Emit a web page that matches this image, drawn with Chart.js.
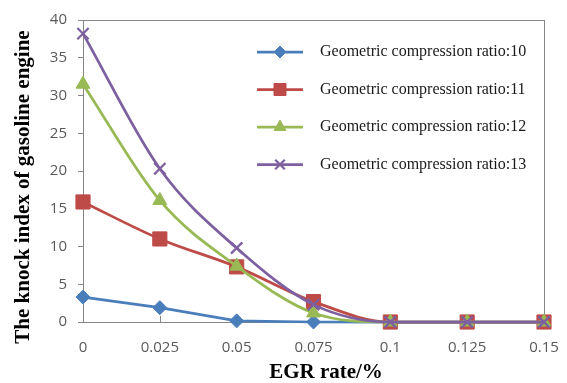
<!DOCTYPE html>
<html>
<head>
<meta charset="utf-8">
<script src="https://cdn.jsdelivr.net/npm/chart.js@4"></script>
<style>
  html, body { margin: 0; padding: 0; background: #ffffff; }
</style>
</head>
<body>
<canvas id="knock-chart" width="567" height="383"></canvas>
<script>
const egrRates = ['0', '0.025', '0.05', '0.075', '0.1', '0.125', '0.15'];
const seriesNames = [
    'Geometric compression ratio:10',
    'Geometric compression ratio:11',
    'Geometric compression ratio:12',
    'Geometric compression ratio:13'
];
const ratio10 = [3.3, 1.9, 0.15, 0, 0, 0, 0];
const ratio11 = [15.9, 11.0, 7.3, 2.7, 0, 0, 0];
const ratio12 = [31.5, 16.1, 7.4, 1.2, 0, 0, 0];
const ratio13 = [38.2, 20.3, 9.8, 2.3, 0, 0, 0];
const yTicks = [0, 5, 10, 15, 20, 25, 30, 35, 40];
const yTitle = 'The knock index of gasoline engine';
const xTitle = 'EGR rate/%';

const axisGray = '#868686';
const serif = '"Liberation Serif", "Times New Roman", serif';

// plot frame, inward x ticks, axis titles and legend drawn by hand like the Excel original
const framePlugin = {
    id: 'frame',
    beforeDatasetsDraw(chart) {
        const { ctx, chartArea } = chart;
        ctx.save();
        ctx.strokeStyle = axisGray;
        ctx.lineWidth = 1;
        ctx.strokeRect(chartArea.left + 0.5, chartArea.top + 0.5,
            chartArea.right - chartArea.left, chartArea.bottom - chartArea.top);
        const xs = chart.scales.x;
        ctx.beginPath();
        xs.ticks.forEach((t, i) => {
            const px = Math.round(xs.getPixelForTick(i)) + 0.5;
            ctx.moveTo(px, chartArea.bottom);
            ctx.lineTo(px, chartArea.bottom - 6);
        });
        ctx.stroke();

        ctx.fillStyle = '#000000';
        ctx.font = 'bold 21px ' + serif;
        ctx.textAlign = 'center';
        ctx.textBaseline = 'middle';
        ctx.fillText(xTitle, 326, 373);
        ctx.translate(24, 187);
        ctx.rotate(-Math.PI / 2);
        ctx.fillText(yTitle, 0, 0);
        ctx.restore();
    },
    afterDatasetsDraw(chart) {
        const { ctx, chartArea } = chart;
        ctx.save();
        chart.data.datasets.forEach((ds, i) => {
            const y = chartArea.top + 32 + i * 37.5;
            const x0 = chartArea.left + 174;
            const x1 = chartArea.left + 220;
            ctx.strokeStyle = ds.borderColor;
            ctx.lineWidth = ds.borderWidth;
            ctx.beginPath();
            ctx.moveTo(x0, y);
            ctx.lineTo(x1, y);
            ctx.stroke();
            ctx.fillStyle = ds.pointBackgroundColor;
            ctx.strokeStyle = ds.pointBorderColor;
            ctx.lineWidth = ds.pointBorderWidth;
            Chart.helpers.drawPoint(ctx, {
                pointStyle: ds.pointStyle,
                radius: ds.pointRadius * 0.85,
                rotation: 0,
                borderWidth: ds.pointBorderWidth
            }, (x0 + x1) / 2, y);
            ctx.fillStyle = '#1a1a1a';
            ctx.font = '16px ' + serif;
            ctx.textAlign = 'left';
            ctx.textBaseline = 'middle';
            ctx.fillText(ds.label, chartArea.left + 237, y);
        });
        ctx.restore();
    }
};

function makeSeries(label, data, color, style, radius, smooth) {
    return {
        label: label,
        data: data,
        borderColor: color,
        backgroundColor: color,
        borderWidth: 2.75,
        pointStyle: style,
        pointRadius: radius,
        pointBackgroundColor: color,
        pointBorderColor: color,
        pointBorderWidth: style === 'crossRot' ? 2.25 : 1,
        cubicInterpolationMode: smooth ? 'monotone' : 'default',
        tension: 0,
        fill: false,
        clip: false
    };
}

const datasets = [
    makeSeries(seriesNames[0], ratio10, '#4a7ebb', 'rectRot', 7, false),
    makeSeries(seriesNames[1], ratio11, '#be4b48', 'rect', 10, true),
    makeSeries(seriesNames[2], ratio12, '#98b954', 'triangle', 8, true),
    makeSeries(seriesNames[3], ratio13, '#7d60a0', 'crossRot', 8, true)
];
// later series are painted on top
datasets.forEach((ds, i) => { ds.order = datasets.length - 1 - i; });

const tickFont = { family: '"Open Sans", "Liberation Sans", sans-serif', size: 15 };

const knockChart = new Chart(document.getElementById('knock-chart'), {
    type: 'line',
    data: {
        labels: egrRates,
        datasets: datasets
    },
    options: {
        responsive: false,
        devicePixelRatio: 1,
        animation: false,
        layout: { padding: { left: 0, right: 23, top: 13, bottom: 0 } },
        scales: {
            x: {
                type: 'category',
                offset: false,
                grid: { display: false },
                border: { display: true, color: axisGray, width: 1 },
                ticks: { color: '#595959', font: tickFont, padding: 9, maxRotation: 0, autoSkip: false },
                title: { display: false },
                afterFit(scale) {
                    scale.height = 61;
                    scale.paddingLeft = 0;
                    scale.paddingRight = 0;
                }
            },
            y: {
                min: 0,
                max: 40,
                afterBuildTicks(scale) { scale.ticks = yTicks.map(v => ({ value: v })); },
                grid: { display: true, drawOnChartArea: false, drawTicks: true, tickLength: 5, color: axisGray },
                border: { display: true, color: axisGray, width: 1 },
                ticks: { color: '#595959', font: tickFont, padding: 11 },
                title: { display: false },
                afterFit(scale) { scale.width = 83; }
            }
        },
        plugins: {
            legend: { display: false },
            tooltip: { enabled: false }
        }
    },
    plugins: [framePlugin]
});
</script>
</body>
</html>
